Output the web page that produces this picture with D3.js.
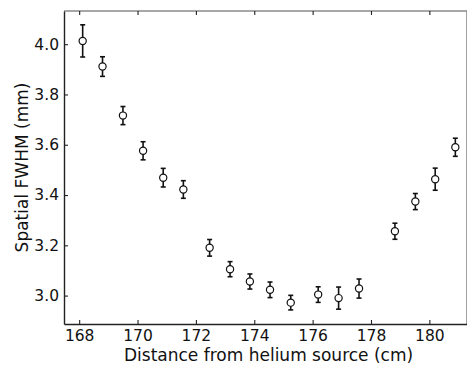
<!DOCTYPE html>
<html>
<head>
<meta charset="utf-8">
<script src="https://cdn.jsdelivr.net/npm/d3@7"></script>
<style>
  body { margin: 0; background: #fff; }
  text { font-family: "DejaVu Sans", sans-serif; fill: #111; }
</style>
</head>
<body>
<div id="chart"></div>
<script>
// distance (cm), spatial FWHM (mm), error (mm)
const distance = [168.12, 168.80, 169.50, 170.19, 170.88, 171.57, 172.47, 173.17, 173.85,
  174.54, 175.25, 176.19, 176.89, 177.59, 178.82, 179.52, 180.20, 180.89];
const fwhm = [4.013, 3.911, 3.716, 3.576, 3.469, 3.422, 3.190, 3.105, 3.056,
  3.023, 2.972, 3.004, 2.990, 3.028, 3.256, 3.374, 3.463, 3.590];
const fwhmErr = [0.064, 0.039, 0.036, 0.036, 0.037, 0.035, 0.033, 0.030, 0.030,
  0.031, 0.029, 0.031, 0.044, 0.038, 0.032, 0.032, 0.044, 0.036];
const xTicks = [168, 170, 172, 174, 176, 178, 180];
const yTicks = [3.0, 3.2, 3.4, 3.6, 3.8, 4.0];

const data = distance.map((d, i) => ({ x: d, y: fwhm[i], e: fwhmErr[i] }));

const W = 467, H = 368;
const margin = { top: 11, right: 0, bottom: 44, left: 64 };
const width = W - margin.left - margin.right,
  height = H - margin.top - margin.bottom;

const svg = d3.select("#chart").append("svg")
  .attr("width", W).attr("height", H);
const g = svg.append("g")
  .attr("transform", `translate(${margin.left},${margin.top})`);

const x = d3.scaleLinear().domain([167.48, 181.29]).range([0, width]);
const y = d3.scaleLinear().domain([2.887, 4.132]).range([height, 0]);

// frame: top/right lighter
g.append("line").attr("x1", 0).attr("x2", width).attr("y1", 0).attr("y2", 0)
  .attr("stroke", "#8a8a8a").attr("stroke-width", 1.6);
g.append("line").attr("x1", width).attr("x2", width).attr("y1", 0).attr("y2", height)
  .attr("stroke", "#8a8a8a").attr("stroke-width", 1.6);

// axes with inward ticks
const xAxis = g.append("g").attr("transform", `translate(0,${height})`)
  .call(d3.axisBottom(x).tickValues(xTicks).tickSizeInner(-4).tickSizeOuter(0)
    .tickPadding(6).tickFormat(d3.format("d")));
const yAxis = g.append("g")
  .call(d3.axisLeft(y).tickValues(yTicks).tickSizeInner(-4).tickSizeOuter(0)
    .tickPadding(5).tickFormat(d3.format(".1f")));
g.append("g")
  .call(d3.axisTop(x).tickValues(xTicks).tickSizeInner(-4).tickSizeOuter(0).tickFormat(""))
  .select(".domain").remove();

[xAxis, yAxis].forEach(a => {
  a.select(".domain").attr("stroke", "#222").attr("stroke-width", 1.4);
  a.selectAll(".tick text").style("font-size", "15.5px").attr("fill", "#111");
});
g.selectAll(".tick line").attr("stroke", "#222").attr("stroke-width", 1.1);

// error bars
const eb = g.append("g").selectAll("g").data(data).join("g")
  .attr("stroke", "#111").attr("stroke-width", 1.6);
eb.append("line")
  .attr("x1", d => x(d.x)).attr("x2", d => x(d.x))
  .attr("y1", d => y(d.y - d.e)).attr("y2", d => y(d.y + d.e));
eb.append("line")
  .attr("x1", d => x(d.x) - 2.5).attr("x2", d => x(d.x) + 2.5)
  .attr("y1", d => y(d.y + d.e)).attr("y2", d => y(d.y + d.e));
eb.append("line")
  .attr("x1", d => x(d.x) - 2.5).attr("x2", d => x(d.x) + 2.5)
  .attr("y1", d => y(d.y - d.e)).attr("y2", d => y(d.y - d.e));

// open circles
g.append("g").selectAll("circle").data(data).join("circle")
  .attr("cx", d => x(d.x)).attr("cy", d => y(d.y)).attr("r", 3.6)
  .attr("fill", "#fff").attr("stroke", "#111").attr("stroke-width", 1.2);

// axis labels
svg.append("text")
  .attr("x", margin.left + x(174.49)).attr("y", 361)
  .attr("text-anchor", "middle").style("font-size", "17px")
  .text("Distance from helium source (cm)");
svg.append("text")
  .attr("transform", `translate(28,${margin.top + height / 2}) rotate(-90)`)
  .attr("text-anchor", "middle").style("font-size", "17px")
  .text("Spatial FWHM (mm)");
</script>
</body>
</html>
